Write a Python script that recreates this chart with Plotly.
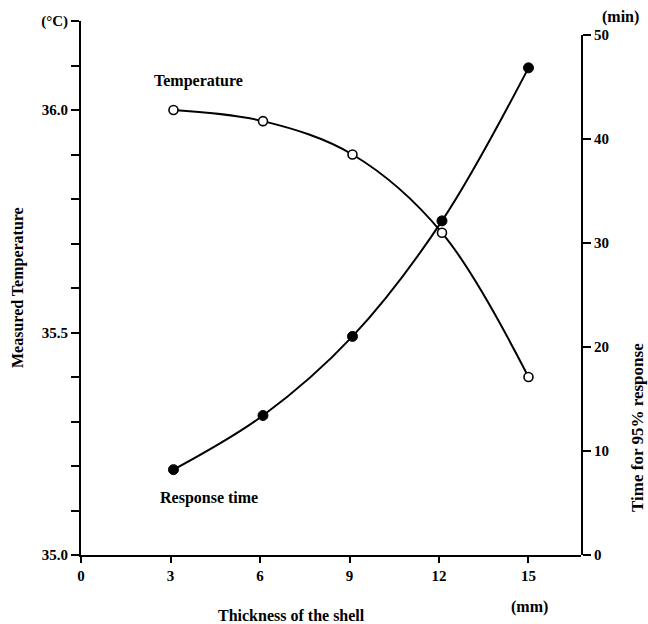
import plotly.graph_objects as go

thickness = [3.1, 6.1, 9.1, 12.1, 15.0]
temperature = [36.0, 35.975, 35.90, 35.724, 35.40]
response_time = [8.2, 13.4, 21.0, 32.1, 46.8]

x_ticks = [0, 3, 6, 9, 12, 15]
left_tickvals = [35.0, 35.1, 35.2, 35.3, 35.4, 35.5, 35.6, 35.7, 35.8, 35.9, 36.0, 36.1, 36.2]
left_ticktext = ["35.0", "", "", "", "", "35.5", "", "", "", "", "36.0", "", "(°C)"]
right_ticks = [0, 10, 20, 30, 40, 50]

FONT = "Liberation Serif"

fig = go.Figure()
fig.add_trace(go.Scatter(
    x=thickness, y=temperature, mode="lines+markers",
    line=dict(color="black", width=2, shape="spline", smoothing=1.0),
    marker=dict(symbol="circle", size=9, color="white", line=dict(color="black", width=1.6)),
    xaxis="x", yaxis="y", showlegend=False))
fig.add_trace(go.Scatter(
    x=thickness, y=response_time, mode="lines+markers",
    line=dict(color="black", width=2, shape="spline", smoothing=1.0),
    marker=dict(symbol="circle", size=10, color="black", line=dict(color="black", width=1)),
    xaxis="x", yaxis="y2", showlegend=False))

tickfont = dict(family=FONT, size=15, color="black", weight="bold")
textfont = dict(family=FONT, size=16, color="black", weight="bold")

fig.update_layout(
    width=648, height=624,
    margin=dict(l=81, r=67, t=21, b=69),
    paper_bgcolor="white", plot_bgcolor="rgba(0,0,0,0)",
    xaxis=dict(range=[0, 16.76], tickvals=x_ticks, ticktext=[str(v) for v in x_ticks],
               showgrid=False, zeroline=False, showline=True, linecolor="black", linewidth=2,
               ticks="outside", ticklen=6, tickwidth=1.5, tickcolor="black",
               tickfont=tickfont, anchor="y"),
    yaxis=dict(range=[35.0, 36.2], tickvals=left_tickvals, ticktext=left_ticktext,
               showgrid=False, zeroline=False, showline=True, linecolor="black", linewidth=2,
               ticks="outside", ticklen=8, tickwidth=1.5, tickcolor="black",
               tickfont=tickfont, domain=[0, 1], anchor="x"),
    yaxis2=dict(range=[0, 50], tickvals=right_ticks, ticktext=[str(v) for v in right_ticks],
                showgrid=False, zeroline=False, showline=True, linecolor="black", linewidth=2,
                ticks="outside", ticklen=8, tickwidth=1.5, tickcolor="black",
                tickfont=tickfont, side="right", anchor="x", domain=[0, 0.9746]),
)

common = dict(showarrow=False, xanchor="center", yanchor="middle")
annotations = [
    dict(text="Temperature", x=3.93, y=36.065, xref="x", yref="y", font=textfont, **common),
    dict(text="Response time", x=4.30, y=35.129, xref="x", yref="y", font=textfont, **common),
    dict(text="Measured Temperature", x=-0.126, y=0.5, xref="paper", yref="paper",
         textangle=-90, font=textfont, **common),
    dict(text="Time for 95% response", x=1.114, y=0.238, xref="paper", yref="paper",
         textangle=-90, font=dict(textfont, size=17), **common),
    dict(text="Thickness of the shell", x=0.42, y=-0.1124, xref="paper", yref="paper",
         font=textfont, **common),
    dict(text="(mm)", x=0.896, y=-0.0974, xref="paper", yref="paper", font=textfont, **common),
    dict(text="(min)", x=1.078, y=1.0075, xref="paper", yref="paper", font=textfont, **common),
]
fig.update_layout(annotations=annotations)

fig.write_html("out.html", config={"displayModeBar": False},
               post_script="document.body.style.margin='0';document.body.style.overflow='hidden';")
